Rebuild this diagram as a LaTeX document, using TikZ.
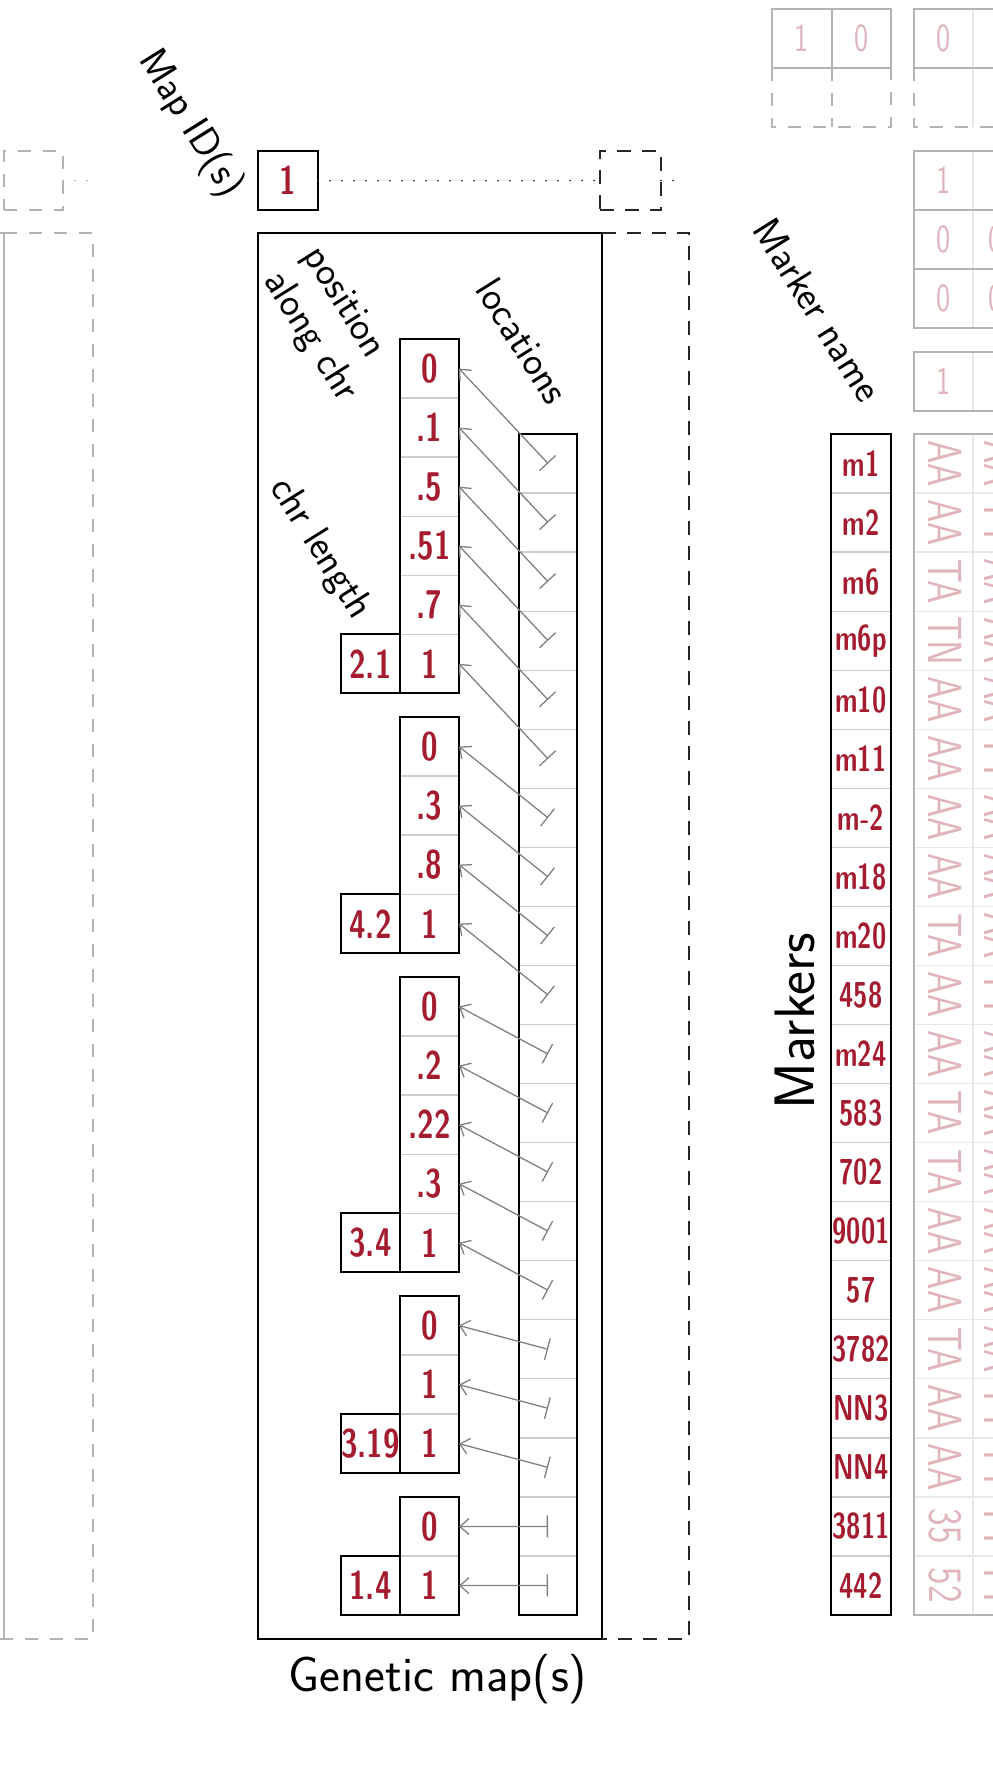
\documentclass[tikz,border=0pt]{standalone}
\usepackage{fontspec}
\usepackage{graphicx}
\usetikzlibrary{arrows.meta}
\definecolor{hwred}{RGB}{165,28,48}
\definecolor{hwpale}{RGB}{224,182,188}
\definecolor{mgray}{RGB}{180,180,180}
\definecolor{cgray}{RGB}{205,205,205}
\definecolor{pgray}{RGB}{232,232,232}
\definecolor{agray}{RGB}{128,128,128}
\newcommand{\hwtext}[1]{\scalebox{0.75}[1]{#1}}
\newcommand{\mktext}[1]{\scalebox{0.72}[1]{#1}}
\newcommand{\gtext}[1]{\scalebox{0.78}[1]{#1}}
\tikzset{
  blk/.style={draw=black, line width=1.8pt},
  dashblk/.style={draw=black!85, line width=1.8pt, dash pattern=on 14pt off 11pt},
  dashgry/.style={draw=mgray, line width=1.8pt, dash pattern=on 13pt off 12pt},
  dotblk/.style={draw=black!80, line width=2pt, line cap=round, dash pattern=on 0pt off 12pt},
  dotgry/.style={dotblk, draw=mgray},
  cell/.style={rectangle, minimum width=59pt, minimum height=59.05pt, inner sep=0pt, outer sep=0pt},
  redfont/.style={text=hwred, font=\sffamily\bfseries\fontsize{40}{40}\selectfont},
  poscell/.style={cell, draw=cgray, line width=1.3pt, redfont},
  chrcell/.style={poscell, blk},
  loccell/.style={cell, minimum width=58pt, draw=cgray, line width=1.3pt},
  mkcell/.style={cell, minimum width=60pt, draw=cgray, line width=1.3pt, text=hwred, font=\sffamily\bfseries\fontsize{36}{36}\selectfont},
  geno/.style={inner sep=0pt, rotate=-90, text=hwpale, font=\sffamily\fontsize{48}{48}\selectfont},
  pale/.style={inner sep=0pt, text=hwpale, font=\sffamily\fontsize{40}{40}\selectfont},
  diag/.style={inner sep=0pt, rotate=-58, font=\sffamily\fontsize{40}{47}\selectfont},
  maparrow/.style={draw=agray, line width=1.3pt, arrows={Bar[width=22pt]-Straight Barb[length=9pt,width=16pt]}},
  solidgry/.style={draw=mgray, line width=1.8pt},
  thingry/.style={draw=pgray, line width=1.3pt},
}
\begin{document}
\begin{tikzpicture}[x=1pt,y=-1pt]
\useasboundingbox (0,0) rectangle (993,1765);
\clip (0,0) rectangle (993,1765);

% ---------- previous (gray) map on the left ----------
\draw[solidgry] (-300,233) rectangle (4,1639);
\draw[dashgry] (4,233) -- (93,233) -- (93,1639) -- (4,1639);
\node[cell, dashgry] (previd) at (33.5,180.5) {};
\coordinate (prevend) at (87,180.5);
\draw[dotgry] (previd.east) -- (prevend);

% ---------- map id ----------
\node[cell, blk, minimum width=60pt, redfont] (mapid) at (288,180.5) {\hwtext{1}};
\node[cell, dashblk, minimum width=61pt] (nextid) at (630.5,180.5) {};
\draw[dotblk] (mapid.east) -- (nextid.west);
\coordinate (nextend) at (684,180.5);
\draw[dotblk] (nextid.east) -- (nextend);

% ---------- genetic map box ----------
\node[draw=black, line width=1.8pt, minimum width=344pt, minimum height=1406pt, inner sep=0pt, outer sep=0pt] (gmap) at (430,936) {};
\draw[dashblk] (gmap.north east) -- (689,233) -- (689,1639) -- (gmap.south east);
\node[anchor=base, inner sep=0pt, font=\sffamily\fontsize{49.6}{55}\selectfont] (gmlabel) at (438,1691) {Genetic map(s)};

% ---------- labels ----------
\node[diag] (lmapid) at (190,124) {Map ID(s)};
\node[diag, align=left] (lpos) at (329,325) {position\\along chr};
\node[diag] (lloc) at (523,341) {locations};
\node[diag] (lchr) at (320,549) {chr length};
\node[diag] (lmk) at (818,310) {Marker name};
\node[rotate=90, inner sep=0pt, font=\sffamily\fontsize{57}{57}\selectfont] (lmarkers) at (795,1021) {Markers};

% ---------- positions along chr ----------
% block 1
\foreach [count=\k] \t in {0,.1,.5,.51,.7,1}
  \node[poscell] (p\k) at (429.5,{339+(\k-0.5)*59.05}) {\hwtext{\t}};
\draw[blk] (p1.north west) rectangle (p6.south east);
\node[chrcell] (c1) at (370.5,{339+5.5*59.05}) {\hwtext{2.1}};
% block 2
\foreach [count=\k] \t in {0,.3,.8,1} {
  \pgfmathtruncatemacro{\n}{\k+6}
  \node[poscell] (p\n) at (429.5,{717+(\k-0.5)*59.05}) {\hwtext{\t}};
}
\draw[blk] (p7.north west) rectangle (p10.south east);
\node[chrcell] (c2) at (370.5,{717+3.5*59.05}) {\hwtext{4.2}};
% block 3
\foreach [count=\k] \t in {0,.2,.22,.3,1} {
  \pgfmathtruncatemacro{\n}{\k+10}
  \node[poscell] (p\n) at (429.5,{977+(\k-0.5)*59.05}) {\hwtext{\t}};
}
\draw[blk] (p11.north west) rectangle (p15.south east);
\node[chrcell] (c3) at (370.5,{977+4.5*59.05}) {\hwtext{3.4}};
% block 4
\foreach [count=\k] \t in {0,1,1} {
  \pgfmathtruncatemacro{\n}{\k+15}
  \node[poscell] (p\n) at (429.5,{1296+(\k-0.5)*59.05}) {\hwtext{\t}};
}
\draw[blk] (p16.north west) rectangle (p18.south east);
\node[chrcell] (c4) at (370.5,{1296+2.5*59.05}) {\hwtext{3.19}};
% block 5
\foreach [count=\k] \t in {0,1} {
  \pgfmathtruncatemacro{\n}{\k+18}
  \node[poscell] (p\n) at (429.5,{1497+(\k-0.5)*59.05}) {\hwtext{\t}};
}
\draw[blk] (p19.north west) rectangle (p20.south east);
\node[chrcell] (c5) at (370.5,{1497+1.5*59.05}) {\hwtext{1.4}};

% ---------- locations ----------
\foreach \k in {1,...,20}
  \node[loccell] (l\k) at (548,{434+(\k-0.5)*59.05}) {};
\draw[blk] (l1.north west) rectangle (l20.south east);

% ---------- markers ----------
\foreach [count=\k] \t in {m1,m2,m6,m6p,m10,m11,m-2,m18,m20,458,m24,583,702,9001,57,3782,NN3,NN4,3811,442}
  \node[mkcell] (m\k) at (861,{434+(\k-0.5)*59.05}) {\mktext{\t}};
\draw[blk] (m1.north west) rectangle (m20.south east);

% ---------- genotype matrix (pale) ----------
\foreach \k in {1,...,19}
  \draw[thingry] (914,{434+\k*59.05}) -- (1100,{434+\k*59.05});
\draw[thingry] (973,434) -- (973,1615.1);
\draw[solidgry] (1100,434) -- (914,434) -- (914,1615.1) -- (1100,1615.1);
\foreach [count=\k] \t in {AA,AA,TA,TN,AA,AA,AA,AA,TA,AA,AA,TA,TA,AA,AA,TA,AA,AA,35,52}
  \node[geno] (ga\k) at (945,{434+(\k-0.5)*59.05}) {\gtext{\t}};
\foreach [count=\k] \t in {AA,TT,AA,AA,AA,TT,AA,AA,AA,TT,AA,AA,AA,AA,AA,AA,TT,TT,TT,TT}
  \node[geno] (gb\k) at (1001,{434+(\k-0.5)*59.05}) {\gtext{\t}};

% ---------- top-right tables ----------
% grid A
\draw[solidgry] (772,9) rectangle (891,68);
\draw[solidgry] (832,9) -- (832,68);
\draw[dashgry] (772,68) -- (772,127) -- (891,127) -- (891,68);
\draw[dashgry] (832,68) -- (832,127);
\node[pale] (ta1) at (802,38.5) {\hwtext{1}};
\node[pale] (ta2) at (861.5,38.5) {\hwtext{0}};
% grid B
\draw[thingry] (973,9) -- (973,127);
\draw[solidgry] (1100,9) -- (914,9) -- (914,68) -- (1100,68);
\draw[dashgry] (914,68) -- (914,127) -- (1100,127);
\node[pale] (tb1) at (943.5,38.5) {\hwtext{0}};
% box C
\draw[thingry] (973,151) -- (973,328);
\draw[solidgry] (1100,151) -- (914,151) -- (914,328) -- (1100,328);
\draw[solidgry] (914,210) -- (1100,210) (914,269) -- (1100,269);
\node[pale] (tc1) at (943.5,180.5) {\hwtext{1}};
\node[pale] (tc2) at (943.5,239.5) {\hwtext{0}};
\node[pale] (tc3) at (996,239.5) {\hwtext{0}};
\node[pale] (tc4) at (943.5,298.5) {\hwtext{0}};
\node[pale] (tc5) at (996,298.5) {\hwtext{0}};
% box D
\draw[thingry] (973,352) -- (973,411);
\draw[solidgry] (1100,352) -- (914,352) -- (914,411) -- (1100,411);
\node[pale] (td1) at (943.5,381.5) {\hwtext{1}};

% ---------- location -> position arrows ----------
\foreach \k in {1,...,20}
  \draw[maparrow] (l\k.center) -- (p\k.east);

\end{tikzpicture}
\end{document}
